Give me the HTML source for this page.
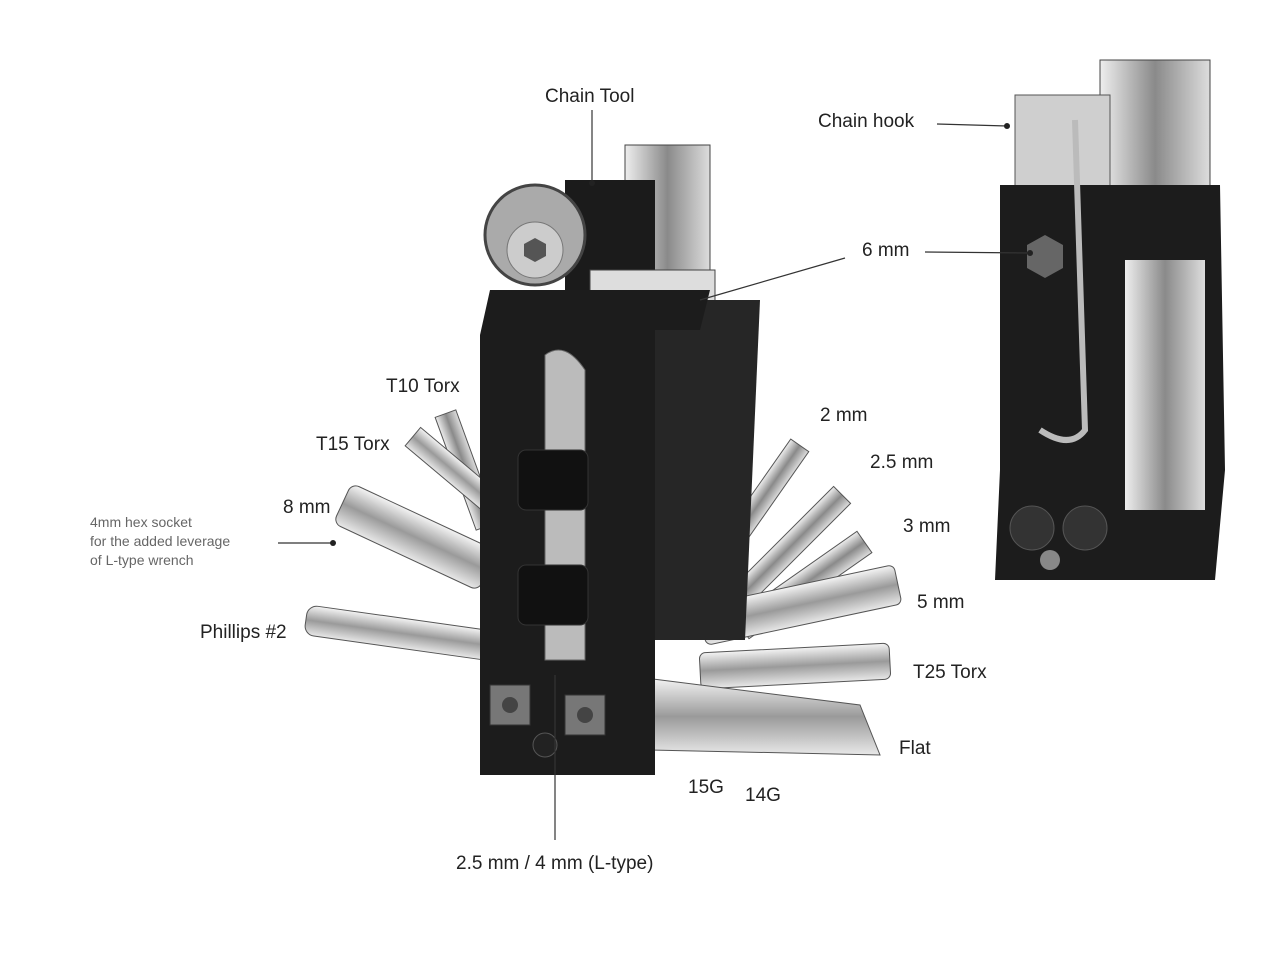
<!DOCTYPE html>
<html><head><meta charset="utf-8"><style>
html,body{margin:0;padding:0;background:#fff;}
svg{display:block}
text{font-family:"Liberation Sans",sans-serif;fill:#222;font-size:19px}
.s{font-size:14px;fill:#666}
</style></head><body>
<svg width="1280" height="955" viewBox="0 0 1280 955" xmlns="http://www.w3.org/2000/svg">
<defs>
<linearGradient id="m" x1="0" y1="0" x2="0" y2="1"><stop offset="0" stop-color="#f4f4f4"/><stop offset="0.5" stop-color="#9a9a9a"/><stop offset="1" stop-color="#e8e8e8"/></linearGradient>
<linearGradient id="mh" x1="0" y1="0" x2="1" y2="0"><stop offset="0" stop-color="#eee"/><stop offset="0.5" stop-color="#8a8a8a"/><stop offset="1" stop-color="#ddd"/></linearGradient>
</defs>
<!-- left fan bits -->
<g stroke="#555" stroke-width="1">
<rect x="455" y="410" width="22" height="120" fill="url(#mh)" transform="rotate(-20 466 470)"/>
<rect x="400" y="460" width="110" height="24" fill="url(#m)" transform="rotate(40 455 472)"/>
<rect x="335" y="515" width="160" height="44" rx="8" fill="url(#m)" transform="rotate(25 415 537)"/>
<rect x="305" y="618" width="190" height="30" rx="10" fill="url(#m)" transform="rotate(8 400 633)"/>
<!-- right fan bits -->
<rect x="740" y="430" width="22" height="170" fill="url(#mh)" transform="rotate(35 751 515)"/>
<rect x="770" y="470" width="24" height="170" fill="url(#mh)" transform="rotate(45 782 555)"/>
<rect x="790" y="510" width="26" height="150" fill="url(#mh)" transform="rotate(55 803 585)"/>
<rect x="700" y="585" width="200" height="40" rx="6" fill="url(#m)" transform="rotate(-12 800 605)"/>
<rect x="700" y="648" width="190" height="36" rx="6" fill="url(#m)" transform="rotate(-3 795 666)"/>
<path d="M645 678 L860 705 L880 755 L650 750 Z" fill="url(#m)"/>
</g>
<!-- chain tool top left -->
<rect x="625" y="145" width="85" height="160" fill="url(#mh)" stroke="#444"/>
<rect x="565" y="180" width="90" height="130" fill="#1b1b1b"/>
<ellipse cx="535" cy="235" rx="50" ry="50" fill="#aaa" stroke="#444" stroke-width="3"/>
<ellipse cx="535" cy="250" rx="28" ry="28" fill="#ccc" stroke="#777"/>
<polygon points="535,238 546,244 546,256 535,262 524,256 524,244" fill="#555"/>
<rect x="590" y="270" width="125" height="35" fill="#ddd" stroke="#444"/>
<!-- back plate -->
<path d="M640 300 L760 300 L745 640 L645 640 Z" fill="#262626"/>
<!-- left body -->
<path d="M490 290 L710 290 L700 330 L655 330 L655 775 L480 775 L480 335 Z" fill="#1c1c1c"/>
<path d="M545 355 Q565 340 585 370 L585 660 L545 660 Z" fill="#bbb" stroke="#666"/>
<rect x="518" y="450" width="70" height="60" rx="8" fill="#111" stroke="#333"/>
<rect x="518" y="565" width="70" height="60" rx="8" fill="#111" stroke="#333"/>
<rect x="490" y="685" width="40" height="40" fill="#777" stroke="#333"/><circle cx="510" cy="705" r="8" fill="#444"/>
<rect x="565" y="695" width="40" height="40" fill="#777" stroke="#333"/><circle cx="585" cy="715" r="8" fill="#444"/>
<circle cx="545" cy="745" r="12" fill="#222" stroke="#555"/>
<!-- right tool -->
<rect x="1100" y="60" width="110" height="130" fill="url(#mh)" stroke="#444"/>
<rect x="1015" y="95" width="95" height="95" fill="#cfcfcf" stroke="#555"/>
<path d="M1000 185 L1220 185 L1225 470 L1215 580 L995 580 L1000 470 Z" fill="#1c1c1c"/>
<rect x="1125" y="260" width="80" height="250" fill="url(#mh)"/>
<path d="M1075 120 L1085 430 Q1070 450 1040 430" fill="none" stroke="#bbb" stroke-width="6"/>
<polygon points="1045,235 1063,245 1063,268 1045,278 1027,268 1027,245" fill="#666"/>
<circle cx="1032" cy="528" r="22" fill="#333" stroke="#555"/>
<circle cx="1085" cy="528" r="22" fill="#333" stroke="#555"/>
<circle cx="1050" cy="560" r="10" fill="#888"/>
<!-- leader lines -->
<g stroke="#333" stroke-width="1.2" fill="none">
<line x1="592" y1="110" x2="592" y2="183"/>
<line x1="937" y1="124" x2="1007" y2="126"/>
<line x1="925" y1="252" x2="1030" y2="253"/>
<line x1="845" y1="258" x2="700" y2="300"/>
<line x1="278" y1="543" x2="333" y2="543"/>
<line x1="555" y1="675" x2="555" y2="840"/>
</g>
<g fill="#222"><circle cx="592" cy="183" r="3"/><circle cx="1007" cy="126" r="3"/><circle cx="1030" cy="253" r="3"/><circle cx="333" cy="543" r="3"/></g>
<!-- labels -->
<text x="545" y="102">Chain Tool</text>
<text x="818" y="127">Chain hook</text>
<text x="862" y="256">6 mm</text>
<text x="386" y="392">T10 Torx</text>
<text x="316" y="450">T15 Torx</text>
<text x="283" y="513">8 mm</text>
<text class="s" x="90" y="527">4mm hex socket</text>
<text class="s" x="90" y="546">for the added leverage</text>
<text class="s" x="90" y="565">of L-type wrench</text>
<text x="200" y="638">Phillips #2</text>
<text x="820" y="421">2 mm</text>
<text x="870" y="468">2.5 mm</text>
<text x="903" y="532">3 mm</text>
<text x="917" y="608">5 mm</text>
<text x="913" y="678">T25 Torx</text>
<text x="899" y="754">Flat</text>
<text x="688" y="793">15G</text>
<text x="745" y="801">14G</text>
<text x="456" y="869">2.5 mm / 4 mm (L-type)</text>
</svg>
</body></html>
